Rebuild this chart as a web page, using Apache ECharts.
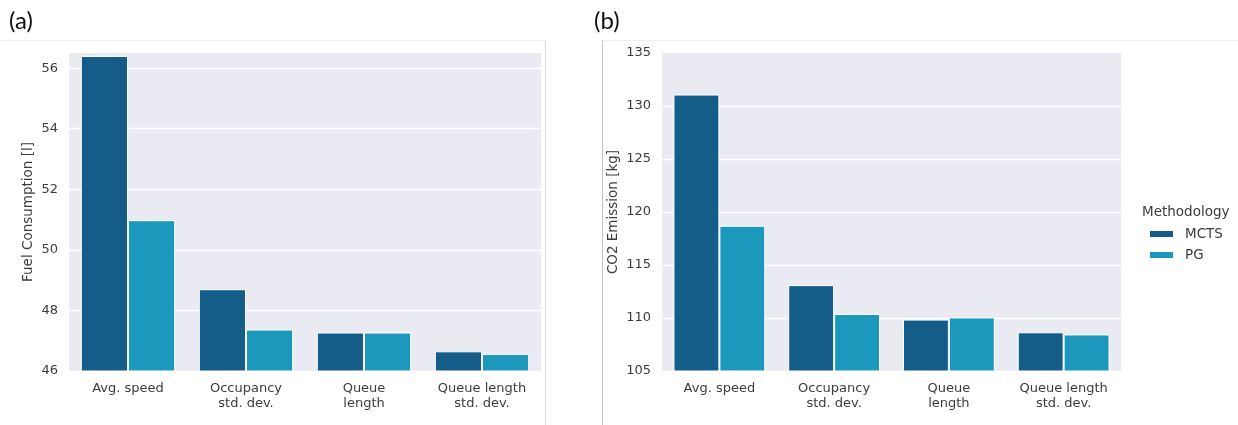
<!DOCTYPE html>
<html><head><meta charset="utf-8">
<script src="https://cdn.jsdelivr.net/npm/echarts@6/dist/echarts.min.js"></script>
<style>html,body{margin:0;padding:0;background:#fff}#c{width:1238px;height:425px}</style>
</head><body><div id="c"></div>
<script>
const categories = ['Avg. speed', 'Occupancy\nstd. dev.', 'Queue\nlength', 'Queue length\nstd. dev.'];
const seriesNames = ['MCTS', 'PG'];
const fuelMCTS = [56.4, 48.7, 47.27, 46.65];
const fuelPG = [50.98, 47.37, 47.27, 46.56];
const co2MCTS = [131.08, 113.1, 109.85, 108.65];
const co2PG = [118.7, 110.38, 110.05, 108.45];
const fuelTicks = {min: 46, max: 56.5, interval: 2};
const co2Ticks = {min: 105, max: 135, interval: 5};

const FONT = 'DejaVu Sans';
const TXT = '#3c3c3c';
const colors = ['#155d89', '#1c98bc'];

function xAxis(gi) {
  return {
    type: 'category', gridIndex: gi, data: categories,
    axisLine: {show: false}, axisTick: {show: false},
    axisLabel: {interval: 0, color: TXT, fontFamily: FONT, fontSize: 13, lineHeight: 15, margin: 10}
  };
}
function yAxis(gi, t, name, gap) {
  return {
    type: 'value', gridIndex: gi, min: t.min, max: t.max, interval: t.interval,
    name: name, nameLocation: 'middle', nameGap: gap, nameRotate: 90,
    nameTextStyle: {color: TXT, fontFamily: FONT, fontSize: 13.5},
    axisLine: {show: false}, axisTick: {show: false},
    axisLabel: {color: TXT, fontFamily: FONT, fontSize: 13, margin: 11,
      formatter: v => (Math.abs((v - t.min) / t.interval - Math.round((v - t.min) / t.interval)) < 1e-6 ? String(v) : '')},
    splitLine: {show: true, showMaxLine: false, lineStyle: {color: '#ffffff', width: 1.3}}
  };
}
function bar(name, data, gi, color) {
  return {
    type: 'bar', name: name, data: data, xAxisIndex: gi, yAxisIndex: gi,
    barCategoryGap: '20%', barGap: '0%',
    itemStyle: {color: color, borderColor: '#ffffff', borderWidth: 1},
    emphasis: {disabled: true}
  };
}

const chart = echarts.init(document.getElementById('c'), null, {renderer: 'canvas'});
chart.setOption({
  animation: false,
  backgroundColor: '#ffffff',
  title: [
    {text: '(a)', left: 9, top: 9, padding: 0, textStyle: {fontFamily: 'Lato', fontWeight: 'normal', fontSize: 24, color: '#111'}},
    {text: '(b)', left: 594, top: 9, padding: 0, textStyle: {fontFamily: 'Lato', fontWeight: 'normal', fontSize: 24, color: '#111'}},
    {text: 'Methodology', left: 1142, top: 205, padding: 0, textStyle: {fontFamily: FONT, fontWeight: 'normal', fontSize: 13.5, color: TXT}}
  ],
  legend: {
    orient: 'vertical', left: 1148, top: 227, padding: 0,
    data: seriesNames, icon: 'rect', itemWidth: 25, itemHeight: 8, itemGap: 7,
    textStyle: {fontFamily: FONT, fontSize: 13.5, color: TXT, padding: [0, 0, 0, 6]},
    selectedMode: false
  },
  grid: [
    {left: 69, right: 697, top: 53, bottom: 54, show: true, backgroundColor: '#eaeaf2', borderWidth: 0, containLabel: false},
    {left: 662, right: 117, top: 53, bottom: 54, show: true, backgroundColor: '#eaeaf2', borderWidth: 0, containLabel: false}
  ],
  xAxis: [xAxis(0), xAxis(1)],
  yAxis: [yAxis(0, fuelTicks, 'Fuel Consumption [l]', 34), yAxis(1, co2Ticks, 'CO2 Emission [kg]', 42)],
  series: [
    bar(seriesNames[0], fuelMCTS, 0, colors[0]),
    bar(seriesNames[1], fuelPG, 0, colors[1]),
    bar(seriesNames[0], co2MCTS, 1, colors[0]),
    bar(seriesNames[1], co2PG, 1, colors[1])
  ],
  graphic: [
    {type: 'line', silent: true, shape: {x1: 0, y1: 40.5, x2: 545, y2: 40.5}, style: {stroke: '#efefef', lineWidth: 1}},
    {type: 'line', silent: true, shape: {x1: 545.5, y1: 40, x2: 545.5, y2: 425}, style: {stroke: '#dcdcdc', lineWidth: 1}},
    {type: 'line', silent: true, shape: {x1: 603, y1: 40.5, x2: 1238, y2: 40.5}, style: {stroke: '#efefef', lineWidth: 1}},
    {type: 'line', silent: true, shape: {x1: 602.5, y1: 40, x2: 602.5, y2: 425}, style: {stroke: '#c4c4c4', lineWidth: 1}}
  ]
});
</script></body></html>
